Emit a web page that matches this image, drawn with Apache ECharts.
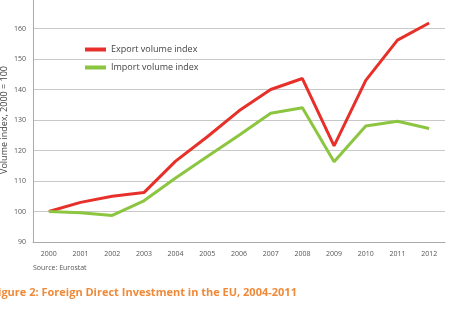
<!DOCTYPE html>
<html>
<head>
<meta charset="utf-8">
<script src="https://cdn.jsdelivr.net/npm/echarts@6/dist/echarts.min.js"></script>
<style>
  html, body { margin: 0; padding: 0; background: #fff; }
  #chart { width: 451px; height: 309px; }
</style>
</head>
<body>
<div id="chart"></div>
<script>
// data
var years = ['2000', '2001', '2002', '2003', '2004', '2005', '2006', '2007', '2008', '2009', '2010', '2011', '2012'];
var exportIdx = [100, 103, 105, 106.2, 116.5, 124.5, 133, 140, 143.6, 121.5, 143, 156.2, 161.8];
var importIdx = [100, 99.6, 98.7, 103.5, 111, 118, 125, 132.2, 134, 116.3, 128, 129.6, 127.2];

var chart = echarts.init(document.getElementById('chart'));

chart.setOption({
    animation: false,
    textStyle: { fontFamily: 'Open Sans' },
    grid: { left: 33, right: 6, top: -2, bottom: 67, outerBoundsMode: 'none' },
    legend: {
        left: 80, top: 40, orient: 'vertical', itemGap: 9,
        itemWidth: 21, itemHeight: 4,
        icon: 'rect',
        textStyle: { fontSize: 9, color: '#444', fontFamily: 'Open Sans' },
        data: ['Export volume index', 'Import volume index']
    },
    xAxis: {
        type: 'category', data: years, boundaryGap: true,
        axisLine: { lineStyle: { color: '#aaa', width: 1 } },
        axisTick: { show: false },
        axisLabel: { fontSize: 7, color: '#555', margin: 8 }
    },
    yAxis: {
        type: 'value', min: 90, max: 170, interval: 10,
        name: 'Volume index, 2000 = 100', nameLocation: 'middle', nameGap: 24,
        nameMoveOverlap: false,
        nameTextStyle: { fontSize: 9, color: '#444' },
        axisLine: { show: true, lineStyle: { color: '#aaa', width: 1 } },
        axisTick: { show: false },
        axisLabel: { fontSize: 7, color: '#555', margin: 7 },
        splitLine: { lineStyle: { color: '#c8c8c8', width: 1 } }
    },
    series: [
        {
            name: 'Export volume index', type: 'line', data: exportIdx,
            symbol: 'none', color: '#e8302a', lineStyle: { width: 3 }
        },
        {
            name: 'Import volume index', type: 'line', data: importIdx,
            symbol: 'none', color: '#8cc540', lineStyle: { width: 3 }
        }
    ],
    graphic: [
        { type: 'text', left: 33, top: 264, style: { text: 'Source: Eurostat', fontSize: 7, fill: '#555', fontFamily: 'Open Sans' } },
        { type: 'text', left: -8, top: 287, style: { text: 'Figure 2: Foreign Direct Investment in the EU, 2004-2011', fontSize: 11, fontWeight: 'bold', fill: '#ef8a3a', fontFamily: 'Open Sans' } }
    ]
});
</script>
</body>
</html>
